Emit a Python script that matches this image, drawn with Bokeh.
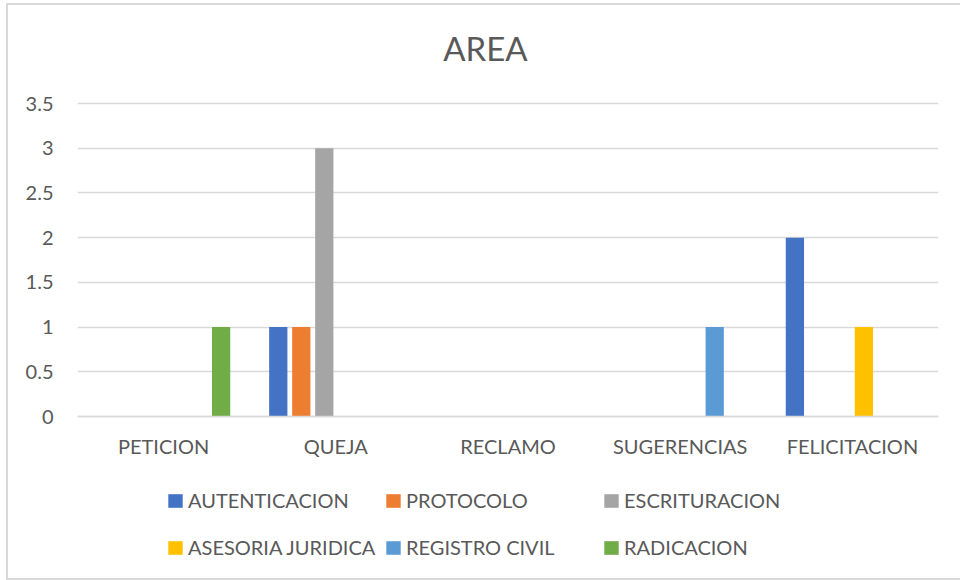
from bokeh.plotting import figure
from bokeh.models import FactorRange, FixedTicker, Legend, LegendItem, ColumnDataSource, Label, Range1d
from bokeh.transform import dodge
from bokeh.embed import file_html
from bokeh.resources import INLINE

categories = ["PETICION", "QUEJA", "RECLAMO", "SUGERENCIAS", "FELICITACION"]
series_names = ["AUTENTICACION", "PROTOCOLO", "ESCRITURACION",
                "ASESORIA JURIDICA", "REGISTRO CIVIL", "RADICACION"]
autenticacion = [0, 1, 0, 0, 2]
protocolo = [0, 1, 0, 0, 0]
escrituracion = [0, 3, 0, 0, 0]
asesoria_juridica = [0, 0, 0, 0, 1]
registro_civil = [0, 0, 0, 1, 0]
radicacion = [1, 0, 0, 0, 0]
y_ticks = [0, 0.5, 1, 1.5, 2, 2.5, 3, 3.5]
y_tick_labels = ["0", "0.5", "1", "1.5", "2", "2.5", "3", "3.5"]
title_text = "AREA"

colors = ["#4472C4", "#ED7D31", "#A5A5A5", "#FFC000", "#5B9BD5", "#70AD47"]
series_values = [autenticacion, protocolo, escrituracion,
                 asesoria_juridica, registro_civil, radicacion]

FONT = "Lato"
TXT = "#595959"

# layout (pixels): figure placed at page (6, 3), size 954 x 577
FIG_W, FIG_H = 954, 577
PLOT_TOP, PLOT_BOTTOM = 100, 413          # y of 3.5 and 0 inside the figure
px_per_unit = (PLOT_BOTTOM - PLOT_TOP) / 3.5
y_end = 3.5 + PLOT_TOP / px_per_unit
y_start = -(FIG_H - PLOT_BOTTOM) / px_per_unit

source = ColumnDataSource(dict(cat=categories, **{f"s{i}": v for i, v in enumerate(series_values)}))

p = figure(x_range=FactorRange(*categories), y_range=Range1d(y_start, y_end),
           width=FIG_W, height=FIG_H, output_backend="svg", toolbar_location=None,
           min_border_left=71, min_border_right=22, min_border_top=0,
           min_border_bottom=0)
p.styles = {"margin-left": "6px", "margin-top": "3px",
            "box-shadow": "inset 2px 0 0 #D9D9D9, inset 0 2px 0 #D9D9D9, inset 0 -2px 0 #D9D9D9"}
p.outline_line_color = None
p.background_fill_alpha = 0
p.border_fill_alpha = 0

pitch = 0.1336
bw = 0.106
renderers = []
for i, (name, col) in enumerate(zip(series_names, colors)):
    r = p.vbar(x=dodge("cat", (i - 2.5) * pitch, range=p.x_range), top=f"s{i}",
               width=bw, source=source, fill_color=col, line_color=None)
    renderers.append(r)

p.xgrid.grid_line_color = None
p.ygrid.grid_line_color = "#D9D9D9"
p.ygrid.grid_line_width = 1.3
p.yaxis.ticker = FixedTicker(ticks=y_ticks)
p.yaxis.major_label_overrides = {t: l for t, l in zip(y_ticks, y_tick_labels)}
for ax in (p.xaxis, p.yaxis):
    ax.axis_line_color = None
    ax.major_tick_line_color = None
    ax.minor_tick_line_color = None
    ax.major_tick_out = 0
    ax.major_tick_in = 0
    ax.major_label_text_font = FONT
    ax.major_label_text_font_size = "20px"
    ax.major_label_text_color = TXT
p.xaxis.fixed_location = 0
p.xaxis.axis_line_color = "#D9D9D9"
p.xaxis.axis_line_width = 1.3
p.xaxis.major_label_standoff = 17
p.yaxis.major_label_standoff = 24

# title
p.add_layout(Label(x=2.369, y=3.5 + 56 / px_per_unit, text=title_text,
                   text_align="center", text_baseline="middle", text_font=FONT,
                   text_font_size="33px", text_color=TXT))

rows = [series_names[:3], series_names[3:]]
row_renderers = [renderers[:3], renderers[3:]]
row_loc = [(89, 68), (89, 21)]
for k in range(2):
    lg = Legend(items=[LegendItem(label=n, renderers=[r]) for n, r in zip(rows[k], row_renderers[k])],
                orientation="horizontal", location=row_loc[k],
                glyph_width=18, glyph_height=17, label_standoff=4, label_width=196,
                label_height=24, padding=0, margin=0, spacing=0,
                border_line_color=None, background_fill_alpha=0,
                label_text_font=FONT, label_text_font_size="20px",
                label_text_color=TXT)
    p.add_layout(lg)

open("out.html", "w").write(file_html(p, INLINE))
